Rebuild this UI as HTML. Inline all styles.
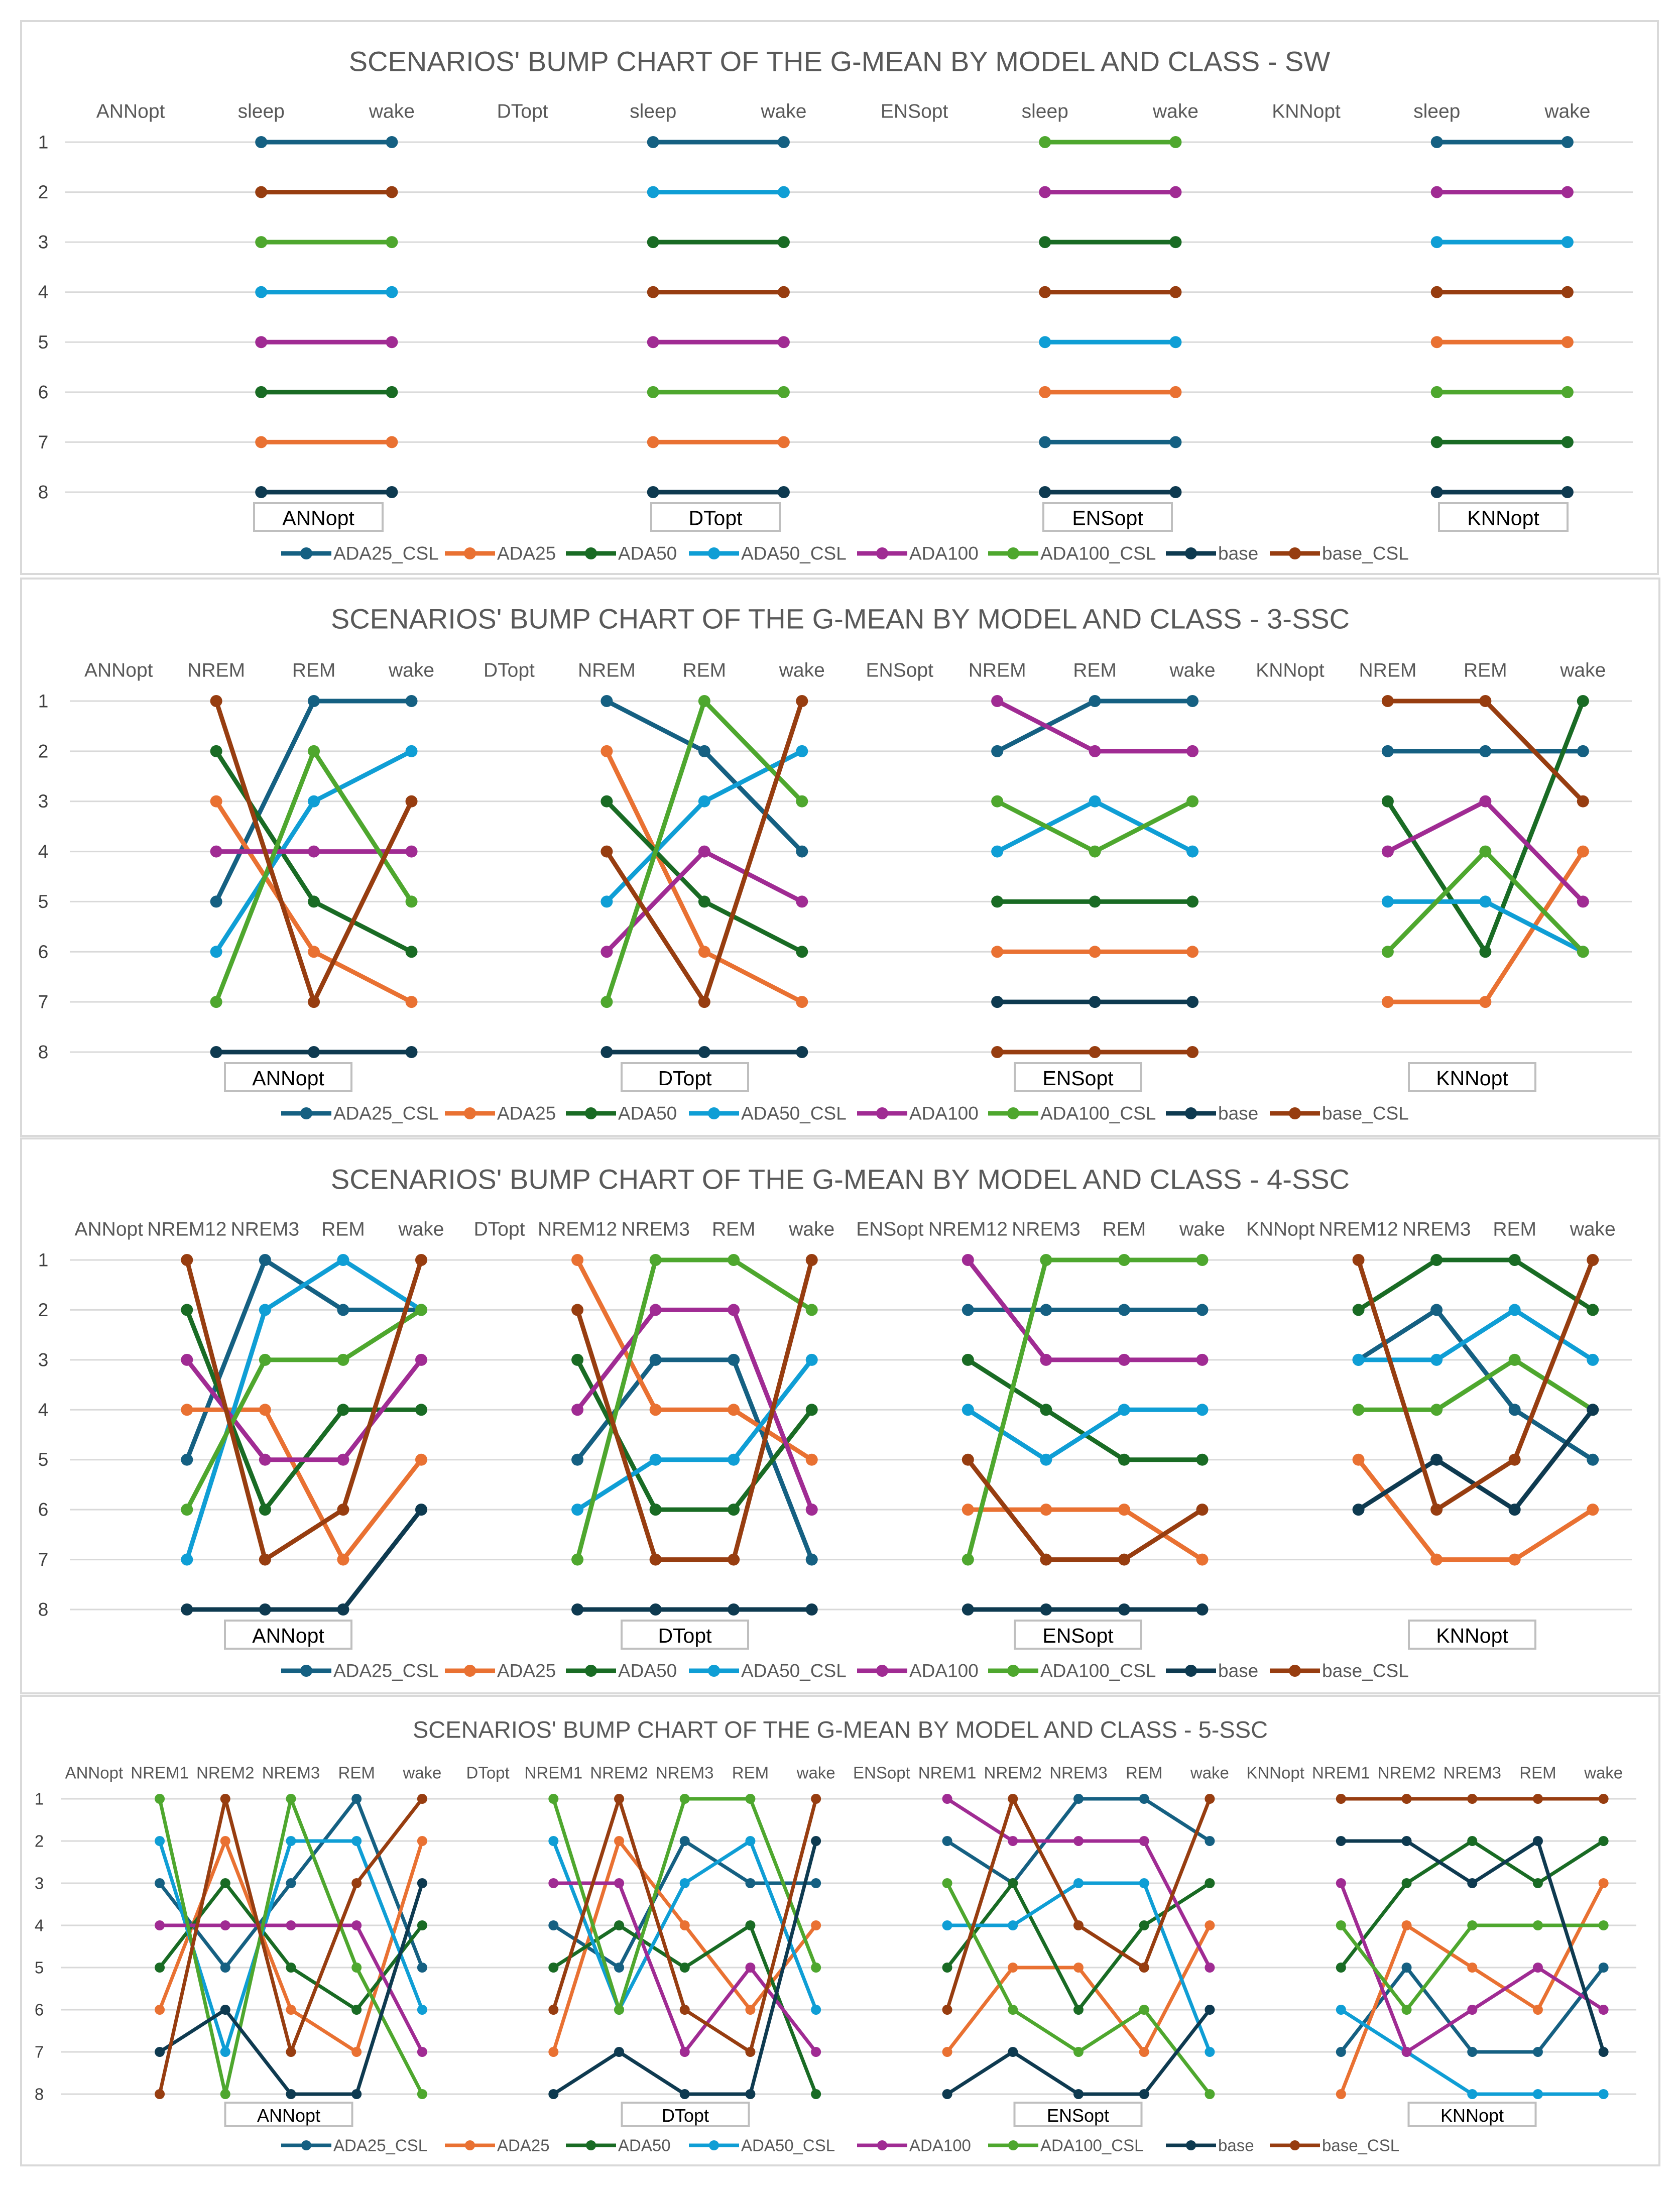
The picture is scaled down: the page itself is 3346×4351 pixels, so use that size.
<!DOCTYPE html>
<html><head><meta charset="utf-8">
<style>
html,body{margin:0;padding:0;background:#fff;}
svg{display:block;font-family:"Liberation Sans Narrow","Liberation Sans",sans-serif;}
</style></head>
<body>
<svg id="chart" width="3346" height="4351" viewBox="0 0 3346 4351" xmlns="http://www.w3.org/2000/svg"></svg>
<script>
// ---- data ----
const seriesNames = ['ADA25_CSL','ADA25','ADA50','ADA50_CSL','ADA100','ADA100_CSL','base','base_CSL'];
const models = ['ANNopt','DTopt','ENSopt','KNNopt'];
const rankTicks = [1,2,3,4,5,6,7,8];

const swClasses = ['sleep','wake'];
const sw_ANNopt = [[1,1],[7,7],[6,6],[4,4],[5,5],[3,3],[8,8],[2,2]];
const sw_DTopt  = [[1,1],[7,7],[3,3],[2,2],[5,5],[6,6],[8,8],[4,4]];
const sw_ENSopt = [[7,7],[6,6],[3,3],[5,5],[2,2],[1,1],[8,8],[4,4]];
const sw_KNNopt = [[1,1],[5,5],[7,7],[3,3],[2,2],[6,6],[8,8],[4,4]];

const ssc3Classes = ['NREM','REM','wake'];
const ssc3_ANNopt = [[5,1,1],[3,6,7],[2,5,6],[6,3,2],[4,4,4],[7,2,5],[8,8,8],[1,7,3]];
const ssc3_DTopt  = [[1,2,4],[2,6,7],[3,5,6],[5,3,2],[6,4,5],[7,1,3],[8,8,8],[4,7,1]];
const ssc3_ENSopt = [[2,1,1],[6,6,6],[5,5,5],[4,3,4],[1,2,2],[3,4,3],[7,7,7],[8,8,8]];
const ssc3_KNNopt = [[2,2,2],[7,7,4],[3,6,1],[5,5,6],[4,3,5],[6,4,6],null,[1,1,3]];

const ssc4Classes = ['NREM12','NREM3','REM','wake'];
const ssc4_ANNopt = [[5,1,2,2],[4,4,7,5],[2,6,4,4],[7,2,1,2],[3,5,5,3],[6,3,3,2],[8,8,8,6],[1,7,6,1]];
const ssc4_DTopt  = [[5,3,3,7],[1,4,4,5],[3,6,6,4],[6,5,5,3],[4,2,2,6],[7,1,1,2],[8,8,8,8],[2,7,7,1]];
const ssc4_ENSopt = [[2,2,2,2],[6,6,6,7],[3,4,5,5],[4,5,4,4],[1,3,3,3],[7,1,1,1],[8,8,8,8],[5,7,7,6]];
const ssc4_KNNopt = [[3,2,4,5],[5,7,7,6],[2,1,1,2],[3,3,2,3],null,[4,4,3,4],[6,5,6,4],[1,6,5,1]];

const ssc5Classes = ['NREM1','NREM2','NREM3','REM','wake'];
const ssc5_ANNopt = [[3,5,3,1,5],[6,2,6,7,2],[5,3,5,6,4],[2,7,2,2,6],[4,4,4,4,7],[1,8,1,5,8],[7,6,8,8,3],[8,1,7,3,1]];
const ssc5_DTopt  = [[4,5,2,3,3],[7,2,4,6,4],[5,4,5,4,8],[2,6,3,2,6],[3,3,7,5,7],[1,6,1,1,5],[8,7,8,8,2],[6,1,6,7,1]];
const ssc5_ENSopt = [[2,3,1,1,2],[7,5,5,7,4],[5,3,6,4,3],[4,4,3,3,7],[1,2,2,2,5],[3,6,7,6,8],[8,7,8,8,6],[6,1,4,5,1]];
const ssc5_KNNopt = [[7,5,7,7,5],[8,4,5,6,3],[5,3,2,3,2],[6,7,8,8,8],[3,7,6,5,6],[4,6,4,4,4],[2,2,3,2,7],[1,1,1,1,1]];

// ---- styles ----
const seriesColors = ['#156082','#E97132','#196B24','#0F9ED5','#A02B93','#4EA72E','#0E3A50','#973D10'];
const legendSwatchX = [560,886,1127,1372,1707,1968,2322,2529];

const panels = [
  {key:'sw', title:"SCENARIOS' BUMP CHART OF THE G-MEAN BY MODEL AND CLASS - SW", classes:swClasses,
   data:[sw_ANNopt,sw_DTopt,sw_ENSopt,sw_KNNopt],
   box:[42,42,3260,1101], titleY:122, titleFs:56, labelY:222, labelFs:39, plotL:130, plotR:3252, row1:283, row8:980,
   rowX:86, rowFs:37, mBoxY:1002, mBoxH:55, mBoxCx:[634,1425,2206,2994], mBoxW:256, mFs:41, legY:1102, legFs:37, lw:9, r:12},
  {key:'ssc3', title:"SCENARIOS' BUMP CHART OF THE G-MEAN BY MODEL AND CLASS - 3-SSC", classes:ssc3Classes,
   data:[ssc3_ANNopt,ssc3_DTopt,ssc3_ENSopt,ssc3_KNNopt],
   box:[42,1152,3263,1110], titleY:1232, titleFs:56, labelY:1335, labelFs:39, plotL:139, plotR:3250, row1:1396, row8:2095,
   rowX:86, rowFs:37, mBoxY:2117, mBoxH:56, mBoxCx:[574,1364,2147,2932], mBoxW:252, mFs:41, legY:2217, legFs:37, lw:9, r:12},
  {key:'ssc4', title:"SCENARIOS' BUMP CHART OF THE G-MEAN BY MODEL AND CLASS - 4-SSC", classes:ssc4Classes,
   data:[ssc4_ANNopt,ssc4_DTopt,ssc4_ENSopt,ssc4_KNNopt],
   box:[42,2267,3263,1105], titleY:2348, titleFs:56, labelY:2448, labelFs:39, plotL:139, plotR:3250, row1:2509, row8:3205,
   rowX:86, rowFs:37, mBoxY:3227, mBoxH:56, mBoxCx:[574,1364,2147,2932], mBoxW:252, mFs:41, legY:3327, legFs:37, lw:9, r:12},
  {key:'ssc5', title:"SCENARIOS' BUMP CHART OF THE G-MEAN BY MODEL AND CLASS - 5-SSC", classes:ssc5Classes,
   data:[ssc5_ANNopt,ssc5_DTopt,ssc5_ENSopt,ssc5_KNNopt],
   box:[42,3377,3263,935], titleY:3444, titleFs:47, labelY:3530, labelFs:33, plotL:122, plotR:3259, row1:3582, row8:4170,
   rowX:78, rowFs:33, mBoxY:4187, mBoxH:47, mBoxCx:[575,1365,2147,2932], mBoxW:253, mFs:36, legY:4272, legFs:33, lw:7, r:10}
];

const NS = 'http://www.w3.org/2000/svg';
const svg = document.getElementById('chart');
function mk(tag, attrs, parent){
  const e = document.createElementNS(NS, tag);
  for (const k in attrs) e.setAttribute(k, attrs[k]);
  (parent||svg).appendChild(e);
  return e;
}
mk('rect',{x:0,y:0,width:3346,height:4351,fill:'#ffffff'});

panels.forEach(function(p){
  const g = mk('g',{});
  
  
  const frame = mk('rect',{x:p.box[0],y:p.box[1],width:p.box[2],height:p.box[3],fill:'#fff',stroke:'#d9d9d9','stroke-width':4},g);
  
  
  const t = mk('text',{x:(p.box[0]+p.box[0]+p.box[2])/2,y:p.titleY,'text-anchor':'middle','dominant-baseline':'central','font-size':p.titleFs,fill:'#595959'},g);
  t.textContent = p.title;
  
  

  const perGroup = p.classes.length + 1;
  const nSlots = perGroup * models.length;
  const slotW = (p.plotR - p.plotL) / nSlots;
  const xAt = function(gi, ci){ return p.plotL + slotW * (gi*perGroup + ci + 0.5); };
  const yAt = function(rank){ return p.row1 + (rank-1) * (p.row8 - p.row1) / 7; };

  // gridlines & rank labels
  rankTicks.forEach(function(rk){
    const ln = mk('line',{x1:p.plotL,x2:p.plotR,y1:yAt(rk),y2:yAt(rk),stroke:'#d9d9d9','stroke-width':3},g);
    
    
    const tx = mk('text',{x:p.rowX,y:yAt(rk),'text-anchor':'middle','dominant-baseline':'central','font-size':p.rowFs,fill:'#404040'},g);
    tx.textContent = rk;
    
    
  });

  // category labels
  models.forEach(function(m, gi){
    const lbls = [m].concat(p.classes);
    lbls.forEach(function(lb, ci){
      const tx = mk('text',{x:xAt(gi,ci),y:p.labelY,'text-anchor':'middle','dominant-baseline':'central','font-size':p.labelFs,fill:'#595959'},g);
      tx.textContent = lb;
      
      
    });
    // model box label
    const bx = mk('rect',{x:p.mBoxCx[gi]-p.mBoxW/2,y:p.mBoxY,width:p.mBoxW,height:p.mBoxH,fill:'#fff',stroke:'#bfbfbf','stroke-width':4},g);
    
    
    const bt = mk('text',{x:p.mBoxCx[gi],y:p.mBoxY+p.mBoxH/2+2,'text-anchor':'middle','dominant-baseline':'central','font-size':p.mFs,fill:'#000'},g);
    bt.textContent = m;
    
    
  });

  // series
  seriesNames.forEach(function(sn, si){
    models.forEach(function(m, gi){
      const ranks = p.data[gi][si];
      if (!ranks) return;
      const pts = ranks.map(function(rk, ci){ return [xAt(gi, ci+1), yAt(rk)]; });
      const pl = mk('polyline',{points:pts.map(function(q){return q.join(',');}).join(' '),fill:'none',stroke:seriesColors[si],'stroke-width':p.lw,'stroke-linejoin':'round','stroke-linecap':'round'},g);
      
      
      pts.forEach(function(q){
        const c = mk('circle',{cx:q[0],cy:q[1],r:p.r,fill:seriesColors[si]},g);
        
        
      });
    });
  });

  // legend
  seriesNames.forEach(function(sn, si){
    const sx = legendSwatchX[si];
    const lg = mk('g',{},g);
    
    
    mk('line',{x1:sx,x2:sx+100,y1:p.legY,y2:p.legY,stroke:seriesColors[si],'stroke-width':p.lw},lg);
    mk('circle',{cx:sx+50,cy:p.legY,r:p.r,fill:seriesColors[si]},lg);
    const lt = mk('text',{x:sx+104,y:p.legY,'dominant-baseline':'central','font-size':p.legFs,fill:'#595959'},lg);
    lt.textContent = sn;
  });
});
</script>
</body></html>
